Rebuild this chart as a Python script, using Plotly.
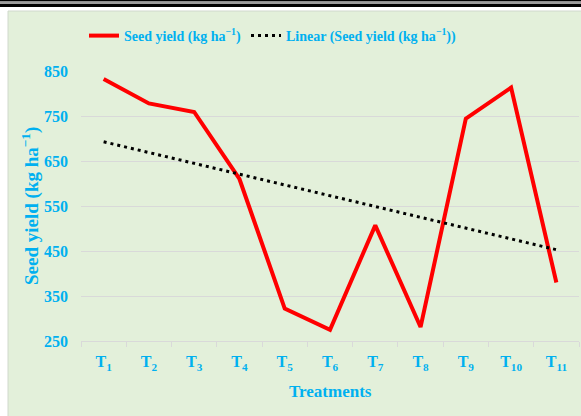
import numpy as np
import plotly.graph_objects as go

# ---- data ----
treatments = ["T<sub>1</sub>", "T<sub>2</sub>", "T<sub>3</sub>", "T<sub>4</sub>", "T<sub>5</sub>",
              "T<sub>6</sub>", "T<sub>7</sub>", "T<sub>8</sub>", "T<sub>9</sub>", "T<sub>10</sub>",
              "T<sub>11</sub>"]
seed_yield = [832, 778, 759, 610, 322, 275, 507, 281, 744, 813, 380]
y_ticks = [250, 350, 450, 550, 650, 750, 850]

# linear trendline (least squares, as Excel's "Linear" trendline)
xi = np.arange(1, len(seed_yield) + 1)
slope, intercept = np.polyfit(xi, seed_yield, 1)
trend = (slope * xi + intercept).tolist()

# ---- layout geometry (pixels) ----
W, H = 581, 416
L, R, T, B = 81, 579, 71, 341
BLUE = "#00B0F0"
FONT = "Liberation Serif"


def px(x):
    return (x - L) / (R - L)


def py(y):
    return (B - y) / (B - T)


fig = go.Figure()
fig.add_trace(go.Scatter(
    x=treatments, y=seed_yield, mode="lines",
    name="Seed yield (kg ha<sup>\u22121</sup>)",
    line=dict(color="#FF0000", width=4),
))
fig.add_trace(go.Scatter(
    x=treatments, y=trend, mode="lines",
    name="Linear (Seed yield (kg ha<sup>\u22121</sup>))",
    line=dict(color="#000000", width=3, dash="3px,4px"),
))

shapes = [
    # green chart area
    dict(type="rect", xref="paper", yref="paper", x0=px(8), x1=px(W + 2), y0=py(H + 2), y1=py(11),
         fillcolor="#E3F0DA", line=dict(color="#D0D8CC", width=1), layer="below"),
    # top rules
    dict(type="rect", xref="paper", yref="paper", x0=px(-1), x1=px(W + 1), y0=py(1.5), y1=py(-1),
         fillcolor="#000000", line=dict(width=0), layer="above"),
    dict(type="rect", xref="paper", yref="paper", x0=px(-1), x1=px(W + 1), y0=py(4), y1=py(1.5),
         fillcolor="#9A9A9A", line=dict(width=0), layer="above"),
    dict(type="rect", xref="paper", yref="paper", x0=px(-1), x1=px(W + 1), y0=py(7), y1=py(4),
         fillcolor="#000000", line=dict(width=0), layer="above"),
]

annotations = [
    dict(text="Seed yield (kg ha<sup>\u22121</sup>)", xref="paper", yref="paper",
         x=px(30), y=py(206), xanchor="center", yanchor="middle", textangle=-90,
         showarrow=False, font=dict(family=FONT, size=19, color=BLUE, weight="bold")),
    dict(text="Treatments", xref="paper", yref="paper",
         x=px(330), y=py(391), xanchor="center", yanchor="middle",
         showarrow=False, font=dict(family=FONT, size=17, color=BLUE, weight="bold")),
]

fig.update_layout(
    width=W, height=H,
    margin=dict(l=L, r=W - R, t=T, b=H - B, pad=0),
    paper_bgcolor="#FFFFFF",
    plot_bgcolor="rgba(0,0,0,0)",
    shapes=shapes,
    annotations=annotations,
    showlegend=True,
    legend=dict(orientation="h", x=px(273), y=py(36), xanchor="center", yanchor="middle",
                bgcolor="rgba(0,0,0,0)", font=dict(family=FONT, size=14, color=BLUE, weight="bold"),
                itemwidth=30, tracegroupgap=0),
    xaxis=dict(type="category", range=[-0.5, len(treatments) - 0.5],
               tickson="boundaries", ticks="outside", ticklen=5,
               tickcolor="#D9D9D9", showline=True, linecolor="#D9D9D9", linewidth=1,
               showgrid=False, zeroline=False, fixedrange=True, ticklabelstandoff=6,
               tickfont=dict(family=FONT, size=16, color=BLUE, weight="bold")),
    yaxis=dict(range=[250, 850], tickvals=y_ticks, ticktext=[str(v) for v in y_ticks],
               showgrid=True, gridcolor="#D9D9D9", gridwidth=1, zeroline=False,
               showline=False, ticks="", ticklabelstandoff=12, fixedrange=True,
               tickfont=dict(family=FONT, size=16, color=BLUE, weight="bold")),
)

fig.write_html("out.html", config={"displayModeBar": False},
               post_script="document.body.style.margin='0';")
